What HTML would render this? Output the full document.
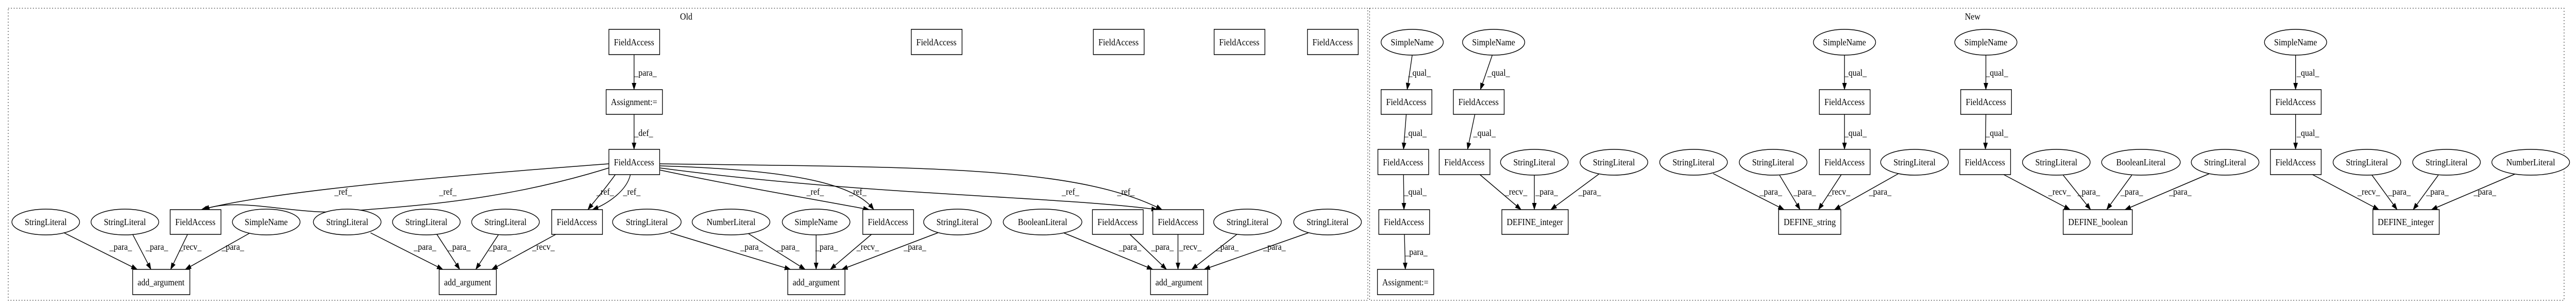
<!DOCTYPE html>
<html><head><meta charset="utf-8"><style>
html,body{margin:0;padding:0;background:#fff;width:100%;height:100%;overflow:hidden;}
svg{display:block;width:100vw;height:100vh;}
text{font-family:"Liberation Serif",serif;font-size:18px;fill:#000;text-anchor:middle;dominant-baseline:central;}
.n{fill:#fff;stroke:#000;stroke-width:1.5;}
.e{fill:none;stroke:#000;stroke-width:1.5;marker-end:url(#a);}
.c{fill:none;stroke:#000;stroke-width:1;stroke-dasharray:2,4;}
</style></head><body>
<svg viewBox="0 0 5631 596" preserveAspectRatio="none" xmlns="http://www.w3.org/2000/svg">
<defs><marker id="a" markerUnits="userSpaceOnUse" markerWidth="14" markerHeight="10" refX="13" refY="5" orient="auto"><path d="M0,0 L14,5 L0,10 z" fill="#000"/></marker></defs>
<rect class="c" x="18" y="16" width="2972" height="567"/>
<rect class="c" x="2994" y="16" width="2611" height="567"/>
<text x="1500" y="32">Old</text>
<text x="4312" y="32">New</text>

<line class="e" x1="1386" y1="106" x2="1386" y2="174"/><text x="1411" y="141">_para_</text>
<line class="e" x1="1386" y1="222" x2="1386" y2="290"/><text x="1407" y="258">_def_</text>
<path class="e" d="M1331,318 C1000,340 600,370 440,407"/>
<path class="e" d="M1331,326 C1100,390 900,400 760,410 C650,420 520,380 445,407"/>
<path class="e" d="M1345,339 C1320,370 1300,390 1285,407"/>
<path class="e" d="M1378,339 C1370,370 1330,395 1295,407"/>
<path class="e" d="M1442,330 C1600,360 1800,390 1900,407"/>
<path class="e" d="M1442,322 C1750,330 1870,360 1910,407"/>
<path class="e" d="M1442,326 C1900,380 2300,380 2530,407"/>
<path class="e" d="M1442,318 C2000,325 2350,320 2540,407"/>
<text x="750" y="372">_ref_</text><text x="979" y="372">_ref_</text><text x="1323" y="372">_ref_</text><text x="1381" y="372">_ref_</text>
<text x="1782" y="372">_ref_</text><text x="1875" y="372">_ref_</text><text x="2340" y="372">_ref_</text><text x="2461" y="372">_ref_</text>

<line class="e" x1="140" y1="452" x2="300" y2="523"/>
<line class="e" x1="290" y1="455" x2="330" y2="523"/>
<line class="e" x1="410" y1="455" x2="373" y2="523"/>
<line class="e" x1="545" y1="453" x2="405" y2="523"/>
<text x="264" y="479">_para_</text><text x="343" y="479">_para_</text><text x="416" y="479">_recv_</text><text x="509" y="479">_para_</text>

<line class="e" x1="810" y1="452" x2="968" y2="523"/>
<line class="e" x1="955" y1="455" x2="1005" y2="523"/>
<line class="e" x1="1090" y1="455" x2="1040" y2="523"/>
<line class="e" x1="1215" y1="455" x2="1075" y2="523"/>
<text x="929" y="479">_para_</text><text x="1004" y="479">_para_</text><text x="1093" y="479">_para_</text><text x="1188" y="479">_recv_</text>

<line class="e" x1="1465" y1="452" x2="1728" y2="523"/>
<line class="e" x1="1635" y1="453" x2="1760" y2="523"/>
<line class="e" x1="1784" y1="456" x2="1784" y2="523"/>
<line class="e" x1="1905" y1="455" x2="1815" y2="523"/>
<line class="e" x1="2050" y1="452" x2="1840" y2="523"/>
<text x="1643" y="479">_para_</text><text x="1723" y="479">_para_</text><text x="1807" y="479">_para_</text><text x="1897" y="479">_recv_</text><text x="2000" y="479">_para_</text>

<line class="e" x1="2325" y1="452" x2="2520" y2="523"/>
<line class="e" x1="2470" y1="455" x2="2550" y2="523"/>
<line class="e" x1="2575" y1="455" x2="2575" y2="523"/>
<line class="e" x1="2705" y1="454" x2="2605" y2="523"/>
<line class="e" x1="2860" y1="452" x2="2632" y2="523"/>
<text x="2470" y="479">_para_</text><text x="2541" y="479">_para_</text><text x="2602" y="479">_recv_</text><text x="2683" y="479">_para_</text><text x="2786" y="479">_para_</text>

<rect class="n" x="1331" y="57" width="111" height="49"/><text x="1386" y="82">FieldAccess</text>
<rect class="n" x="1992" y="57" width="111" height="49"/><text x="2047" y="82">FieldAccess</text>
<rect class="n" x="2390" y="57" width="111" height="49"/><text x="2445" y="82">FieldAccess</text>
<rect class="n" x="2654" y="57" width="111" height="49"/><text x="2709" y="82">FieldAccess</text>
<rect class="n" x="2858" y="57" width="111" height="49"/><text x="2913" y="82">FieldAccess</text>
<rect class="n" x="1325" y="174" width="123" height="48"/><text x="1386" y="198">Assignment:=</text>
<rect class="n" x="1331" y="290" width="111" height="49"/><text x="1386" y="315">FieldAccess</text>

<ellipse class="n" cx="100" cy="431" rx="74" ry="25"/><text x="100" y="431">StringLiteral</text>
<ellipse class="n" cx="273" cy="431" rx="74" ry="25"/><text x="273" y="431">StringLiteral</text>
<rect class="n" x="372" y="407" width="111" height="48"/><text x="427" y="431">FieldAccess</text>
<ellipse class="n" cx="582" cy="431" rx="74" ry="25"/><text x="582" y="431">SimpleName</text>
<ellipse class="n" cx="759" cy="431" rx="74" ry="25"/><text x="759" y="431">StringLiteral</text>
<ellipse class="n" cx="932" cy="431" rx="74" ry="25"/><text x="932" y="431">StringLiteral</text>
<ellipse class="n" cx="1105" cy="431" rx="74" ry="25"/><text x="1105" y="431">StringLiteral</text>
<rect class="n" x="1206" y="407" width="111" height="48"/><text x="1261" y="431">FieldAccess</text>
<ellipse class="n" cx="1414" cy="431" rx="75" ry="25"/><text x="1414" y="431">StringLiteral</text>
<ellipse class="n" cx="1598" cy="431" rx="85" ry="25"/><text x="1598" y="431">NumberLiteral</text>
<ellipse class="n" cx="1784" cy="431" rx="74" ry="25"/><text x="1784" y="431">SimpleName</text>
<rect class="n" x="1886" y="407" width="111" height="48"/><text x="1941" y="431">FieldAccess</text>
<ellipse class="n" cx="2093" cy="431" rx="74" ry="25"/><text x="2093" y="431">StringLiteral</text>
<ellipse class="n" cx="2279" cy="431" rx="86" ry="25"/><text x="2279" y="431">BooleanLiteral</text>
<rect class="n" x="2388" y="407" width="111" height="48"/><text x="2443" y="431">FieldAccess</text>
<rect class="n" x="2520" y="407" width="111" height="48"/><text x="2575" y="431">FieldAccess</text>
<ellipse class="n" cx="2727" cy="431" rx="74" ry="25"/><text x="2727" y="431">StringLiteral</text>
<ellipse class="n" cx="2902" cy="431" rx="74" ry="25"/><text x="2902" y="431">StringLiteral</text>

<rect class="n" x="290" y="523" width="125" height="49"/><text x="352" y="548">add_argument</text>
<rect class="n" x="960" y="523" width="125" height="49"/><text x="1022" y="548">add_argument</text>
<rect class="n" x="1722" y="523" width="125" height="49"/><text x="1784" y="548">add_argument</text>
<rect class="n" x="2515" y="523" width="125" height="49"/><text x="2577" y="548">add_argument</text>

<line class="e" x1="3087" y1="107" x2="3076" y2="174"/><text x="3103" y="141">_qual_</text>
<line class="e" x1="3262" y1="107" x2="3236" y2="174"/><text x="3276" y="141">_qual_</text>
<line class="e" x1="4032" y1="107" x2="4032" y2="174"/><text x="4056" y="141">_qual_</text>
<line class="e" x1="4341" y1="107" x2="4341" y2="174"/><text x="4365" y="141">_qual_</text>
<line class="e" x1="5018" y1="107" x2="5018" y2="174"/><text x="5045" y="141">_qual_</text>
<line class="e" x1="3074" y1="222" x2="3068" y2="290"/><text x="3094" y="258">_qual_</text>
<line class="e" x1="3224" y1="222" x2="3208" y2="290"/><text x="3245" y="258">_qual_</text>
<line class="e" x1="4032" y1="222" x2="4032" y2="290"/><text x="4056" y="258">_qual_</text>
<line class="e" x1="4341" y1="222" x2="4340" y2="290"/><text x="4365" y="258">_qual_</text>
<line class="e" x1="5018" y1="222" x2="5018" y2="290"/><text x="5045" y="258">_qual_</text>
<line class="e" x1="3068" y1="339" x2="3069" y2="407"/><text x="3094" y="372">_qual_</text>
<line class="e" x1="3070" y1="455" x2="3072" y2="523"/><text x="3096" y="489">_para_</text>

<line class="e" x1="3235" y1="339" x2="3325" y2="407"/>
<line class="e" x1="3354" y1="340" x2="3354" y2="407"/>
<line class="e" x1="3495" y1="338" x2="3390" y2="407"/>
<text x="3314" y="372">_recv_</text><text x="3381" y="372">_para_</text><text x="3475" y="372">_para_</text>

<line class="e" x1="3745" y1="337" x2="3900" y2="407"/>
<line class="e" x1="3890" y1="340" x2="3935" y2="407"/>
<line class="e" x1="4025" y1="339" x2="3975" y2="407"/>
<line class="e" x1="4150" y1="337" x2="4010" y2="407"/>
<text x="3871" y="372">_para_</text><text x="3945" y="372">_para_</text><text x="4020" y="372">_recv_</text><text x="4110" y="372">_para_</text>

<line class="e" x1="4380" y1="339" x2="4525" y2="407"/>
<line class="e" x1="4510" y1="340" x2="4570" y2="407"/>
<line class="e" x1="4660" y1="340" x2="4605" y2="407"/>
<line class="e" x1="4830" y1="337" x2="4645" y2="407"/>
<text x="4502" y="372">_recv_</text><text x="4566" y="372">_para_</text><text x="4660" y="372">_para_</text><text x="4766" y="372">_para_</text>

<line class="e" x1="5055" y1="339" x2="5200" y2="407"/>
<line class="e" x1="5185" y1="340" x2="5240" y2="407"/>
<line class="e" x1="5330" y1="340" x2="5275" y2="407"/>
<line class="e" x1="5500" y1="337" x2="5315" y2="407"/>
<text x="5178" y="372">_recv_</text><text x="5245" y="372">_para_</text><text x="5328" y="372">_para_</text><text x="5432" y="372">_para_</text>

<ellipse class="n" cx="3087" cy="82" rx="68" ry="25"/><text x="3087" y="82">SimpleName</text>
<ellipse class="n" cx="3265" cy="82" rx="68" ry="25"/><text x="3265" y="82">SimpleName</text>
<ellipse class="n" cx="4032" cy="82" rx="68" ry="25"/><text x="4032" y="82">SimpleName</text>
<ellipse class="n" cx="4341" cy="82" rx="68" ry="25"/><text x="4341" y="82">SimpleName</text>
<ellipse class="n" cx="5018" cy="82" rx="68" ry="25"/><text x="5018" y="82">SimpleName</text>

<rect class="n" x="3019" y="174" width="111" height="48"/><text x="3074" y="198">FieldAccess</text>
<rect class="n" x="3177" y="174" width="111" height="48"/><text x="3232" y="198">FieldAccess</text>
<rect class="n" x="3977" y="174" width="111" height="48"/><text x="4032" y="198">FieldAccess</text>
<rect class="n" x="4286" y="174" width="111" height="48"/><text x="4341" y="198">FieldAccess</text>
<rect class="n" x="4963" y="174" width="111" height="48"/><text x="5018" y="198">FieldAccess</text>

<rect class="n" x="3012" y="290" width="111" height="49"/><text x="3067" y="315">FieldAccess</text>
<rect class="n" x="3146" y="290" width="111" height="49"/><text x="3201" y="315">FieldAccess</text>
<ellipse class="n" cx="3354" cy="315" rx="74" ry="25"/><text x="3354" y="315">StringLiteral</text>
<ellipse class="n" cx="3528" cy="315" rx="74" ry="25"/><text x="3528" y="315">StringLiteral</text>
<ellipse class="n" cx="3702" cy="315" rx="74" ry="25"/><text x="3702" y="315">StringLiteral</text>
<ellipse class="n" cx="3876" cy="315" rx="74" ry="25"/><text x="3876" y="315">StringLiteral</text>
<rect class="n" x="3977" y="290" width="111" height="49"/><text x="4032" y="315">FieldAccess</text>
<ellipse class="n" cx="4185" cy="315" rx="74" ry="25"/><text x="4185" y="315">StringLiteral</text>
<rect class="n" x="4284" y="290" width="111" height="49"/><text x="4339" y="315">FieldAccess</text>
<ellipse class="n" cx="4495" cy="315" rx="74" ry="25"/><text x="4495" y="315">StringLiteral</text>
<ellipse class="n" cx="4680" cy="315" rx="86" ry="25"/><text x="4680" y="315">BooleanLiteral</text>
<ellipse class="n" cx="4864" cy="315" rx="74" ry="25"/><text x="4864" y="315">StringLiteral</text>
<rect class="n" x="4963" y="290" width="111" height="49"/><text x="5018" y="315">FieldAccess</text>
<ellipse class="n" cx="5174" cy="315" rx="74" ry="25"/><text x="5174" y="315">StringLiteral</text>
<ellipse class="n" cx="5348" cy="315" rx="74" ry="25"/><text x="5348" y="315">StringLiteral</text>
<ellipse class="n" cx="5532" cy="315" rx="85" ry="25"/><text x="5532" y="315">NumberLiteral</text>

<rect class="n" x="3014" y="407" width="111" height="48"/><text x="3069" y="431">FieldAccess</text>
<rect class="n" x="3283" y="407" width="145" height="48"/><text x="3355" y="431">DEFINE_integer</text>
<rect class="n" x="3888" y="407" width="136" height="48"/><text x="3956" y="431">DEFINE_string</text>
<rect class="n" x="4510" y="407" width="151" height="48"/><text x="4586" y="431">DEFINE_boolean</text>
<rect class="n" x="5187" y="407" width="145" height="48"/><text x="5259" y="431">DEFINE_integer</text>

<rect class="n" x="3011" y="523" width="123" height="49"/><text x="3072" y="548">Assignment:=</text>
</svg>
</body></html>
